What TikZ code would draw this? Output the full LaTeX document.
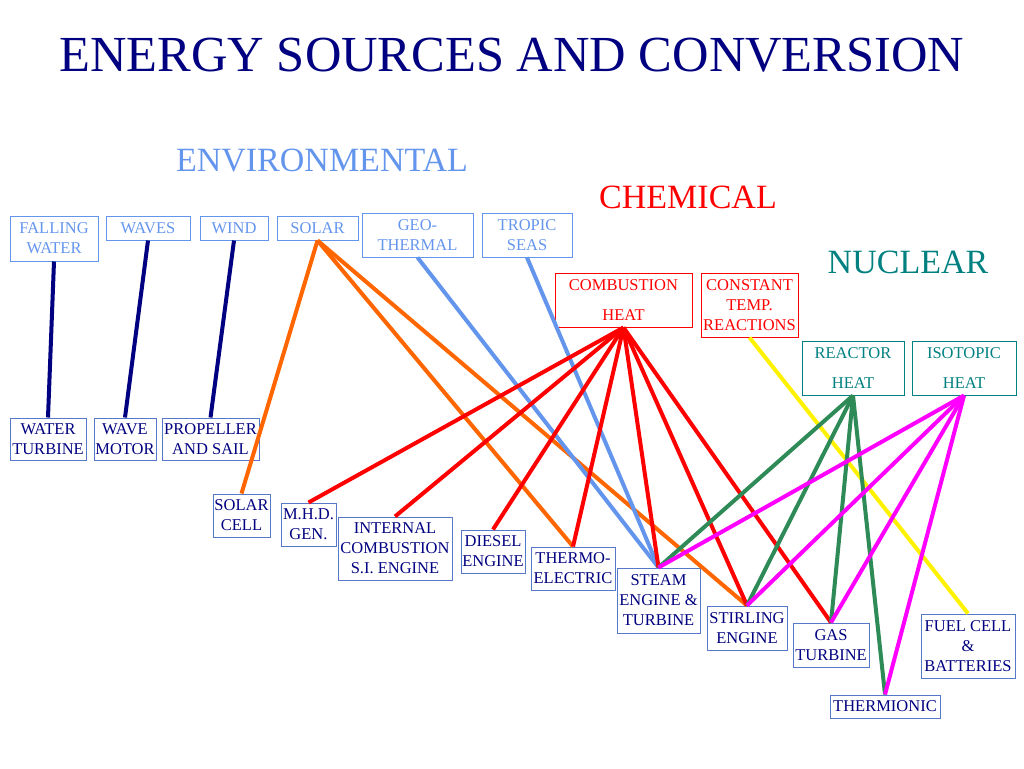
\documentclass[tikz,border=0pt]{standalone}
\usepackage{fontspec}
\setmainfont{Liberation Serif}
\definecolor{navyblue}{RGB}{0,0,128}
\definecolor{envblue}{RGB}{100,149,237}
\definecolor{boxblue}{RGB}{85,120,200}
\definecolor{nucteal}{RGB}{0,128,128}
\definecolor{solarorange}{RGB}{255,102,0}
\definecolor{reactgreen}{RGB}{46,139,87}
\definecolor{isomagenta}{RGB}{255,0,255}

\begin{document}
\begin{tikzpicture}
    [x=1pt, y=-1pt,
     every node/.style={inner sep=0pt, align=center},
     boxfont/.style={font=\fontsize{16.5}{20}\selectfont},
     envbox/.style={boxfont, draw=envblue, text=envblue, line width=1pt},
     chembox/.style={boxfont, draw=red, text=red, line width=1pt},
     nucbox/.style={boxfont, draw=nucteal, text=nucteal, line width=1pt},
     convbox/.style={boxfont, draw=boxblue, text=navyblue, line width=1pt},
     heading/.style={font=\fontsize{34}{40}\selectfont},
     navyline/.style={draw=navyblue, line width=4pt},
     solarline/.style={draw=solarorange, line width=4pt},
     geoline/.style={draw=envblue, line width=4pt},
     chemline/.style={draw=red, line width=4pt},
     constline/.style={draw=yellow, line width=4pt},
     reactline/.style={draw=reactgreen, line width=4pt},
     isoline/.style={draw=isomagenta, line width=4pt}]
  \useasboundingbox (0,0) rectangle (1024,768);

  \node (title) [font=\fontsize{50.5}{60}\selectfont, text=navyblue] at (512,55) {ENERGY SOURCES AND CONVERSION};
  \node (env) [heading, text=envblue] at (322,160) {ENVIRONMENTAL};
  \node (chem) [heading, text=red] at (688,197) {CHEMICAL};
  \node (nuc) [heading, text=nucteal] at (908,262) {NUCLEAR};

  \node (fall) [envbox, minimum width=88pt, minimum height=45pt] at (54,238.5) {FALLING\\WATER};
  \node (waves) [envbox, minimum width=84pt, minimum height=24pt] at (148,228) {WAVES};
  \node (wind) [envbox, minimum width=68pt, minimum height=24pt] at (234,228) {WIND};
  \node (solar) [envbox, minimum width=81pt, minimum height=24pt] at (317.5,228) {SOLAR};
  \node (geo) [envbox, minimum width=111pt, minimum height=44pt] at (417.5,235) {GEO-\\THERMAL};
  \node (tropic) [envbox, minimum width=90pt, minimum height=44pt] at (527,235) {TROPIC\\SEAS};

  \node (comb) [chembox, minimum width=137pt, minimum height=54pt] at (623.5,300) {COMBUSTION\\[10pt]HEAT};
  \node (const) [chembox, minimum width=97pt, minimum height=64pt] at (749.5,305) {CONSTANT\\TEMP.\\REACTIONS};

  \node (reactor) [nucbox, minimum width=102pt, minimum height=54pt] at (853,368) {REACTOR\\[10pt]HEAT};
  \node (iso) [nucbox, minimum width=104pt, minimum height=54pt] at (964,368) {ISOTOPIC\\[10pt]HEAT};

  \node (wturb) [convbox, minimum width=76pt, minimum height=42pt] at (48,439) {WATER\\TURBINE};
  \node (wmotor) [convbox, minimum width=62pt, minimum height=42pt] at (125,439) {WAVE\\MOTOR};
  \node (prop) [convbox, minimum width=97pt, minimum height=42pt] at (210.5,439) {PROPELLER\\AND SAIL};
  \node (scell) [convbox, minimum width=57pt, minimum height=43pt] at (241.5,515.5) {SOLAR\\CELL};
  \node (mhd) [convbox, minimum width=55pt, minimum height=43pt] at (308.5,524.5) {M.H.D.\\GEN.};
  \node (ice) [convbox, minimum width=114pt, minimum height=63pt] at (395,548.5) {INTERNAL\\COMBUSTION\\S.I. ENGINE};
  \node (diesel) [convbox, minimum width=64pt, minimum height=43pt] at (493,551.5) {DIESEL\\ENGINE};
  \node (thermo) [convbox, minimum width=84pt, minimum height=43pt] at (573,568.5) {THERMO-\\ELECTRIC};
  \node (steam) [convbox, minimum width=83pt, minimum height=65pt] at (658.5,600.5) {STEAM\\ENGINE \&\\TURBINE};
  \node (stirling) [convbox, minimum width=80pt, minimum height=44pt] at (747,628) {STIRLING\\ENGINE};
  \node (gas) [convbox, minimum width=76pt, minimum height=44pt] at (831,645) {GAS\\TURBINE};
  \node (thion) [convbox, minimum width=110pt, minimum height=23pt] at (885,706.5) {THERMIONIC};
  \node (fuel) [convbox, minimum width=94pt, minimum height=64pt] at (968,646) {FUEL CELL\\\&\\BATTERIES};

  \draw[navyline] (fall.south) -- (wturb.north);
  \draw[navyline] (waves.south) -- (wmotor.north);
  \draw[navyline] (wind.south) -- (prop.north);

  \draw[solarline] (solar.south) -- (scell.north);
  \draw[solarline] (solar.south) -- (thermo.north);
  \draw[solarline] (solar.south) -- (stirling.north);

  \draw[geoline] (geo.south) -- (steam.north);
  \draw[geoline] (tropic.south) -- (steam.north);

  \draw[chemline] (comb.south) -- (mhd.north);
  \draw[chemline] (comb.south) -- (ice.north);
  \draw[chemline] (comb.south) -- (diesel.north);
  \draw[chemline] (comb.south) -- (thermo.north);
  \draw[chemline] (comb.south) -- (steam.north);
  \draw[chemline] (comb.south) -- (stirling.north);
  \draw[chemline] (comb.south) -- (gas.north);

  \draw[constline] (const.south) -- (fuel.north);

  \draw[reactline] (reactor.south) -- (steam.north);
  \draw[reactline] (reactor.south) -- (stirling.north);
  \draw[reactline] (reactor.south) -- (gas.north);
  \draw[reactline] (reactor.south) -- (thion.north);

  \draw[isoline] (iso.south) -- (steam.north);
  \draw[isoline] (iso.south) -- (stirling.north);
  \draw[isoline] (iso.south) -- (gas.north);
  \draw[isoline] (iso.south) -- (thion.north);
\end{tikzpicture}
\end{document}
